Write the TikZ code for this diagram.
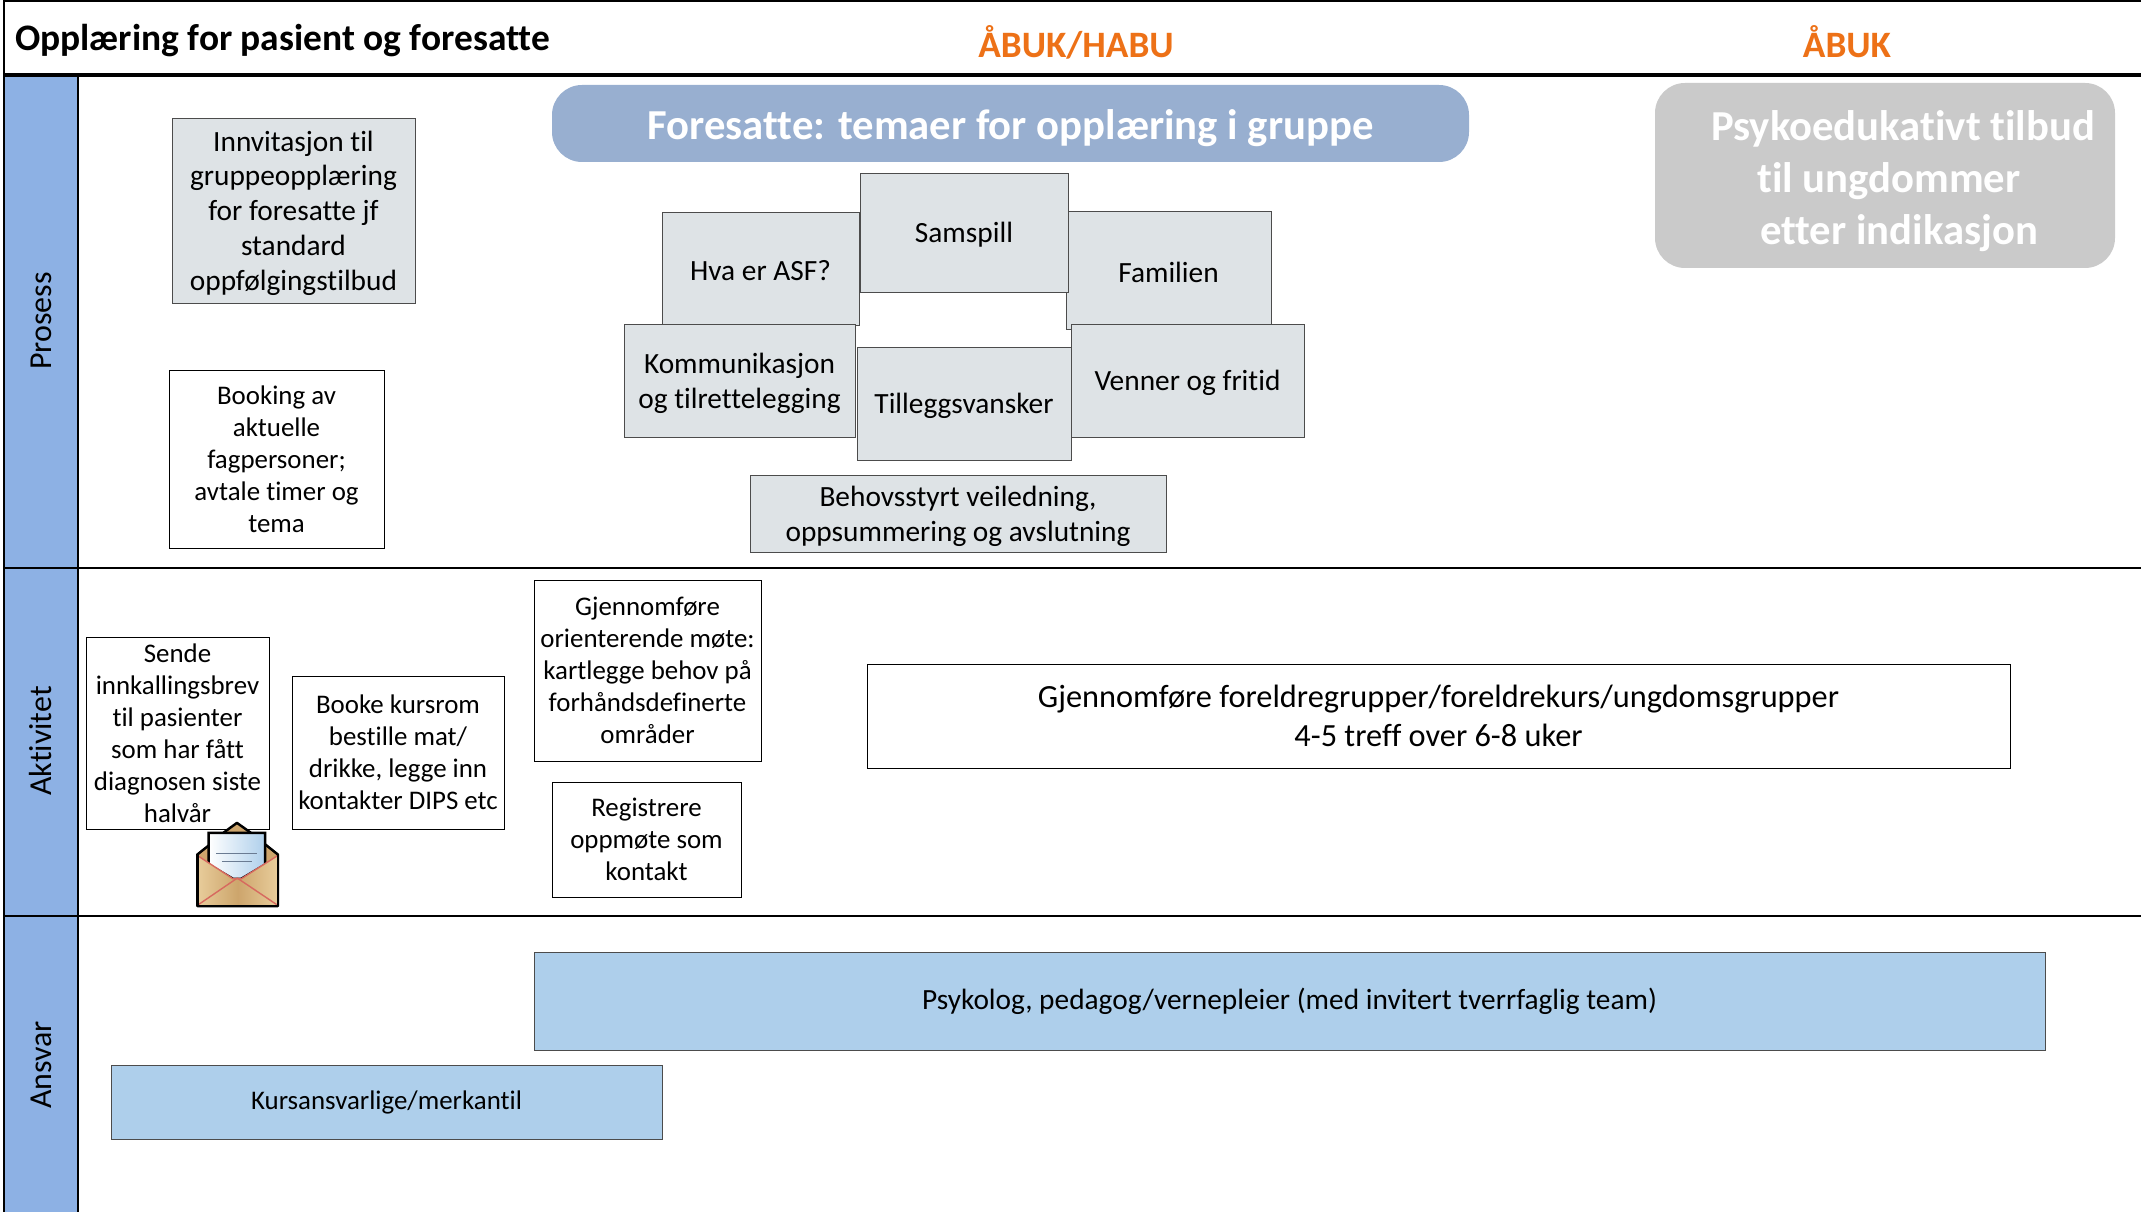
\documentclass[tikz,border=0pt]{standalone}
\usepackage{fontspec}
\setmainfont[Ligatures=NoCommon]{Carlito}
\definecolor{mylane}{RGB}{141,177,228}
\definecolor{mygrey}{RGB}{222,227,230}
\definecolor{mypill}{RGB}{152,175,208}
\definecolor{myoffer}{RGB}{202,202,202}
\definecolor{myrole}{RGB}{174,207,235}
\definecolor{myorange}{RGB}{237,113,23}
\definecolor{mytan}{RGB}{205,165,108}
\definecolor{mysand}{RGB}{232,205,155}
\definecolor{myred}{RGB}{215,105,95}

\begin{document}
\begin{tikzpicture}[
    line width=.7pt,
    lanelabel/.style={rotate=90, font=\fontsize{9.1}{10}\selectfont},
    plainbox/.style={draw=black, line width=.25pt, fill=white, align=center, inner sep=0pt, font=\fontsize{7.65}{9.1}\selectfont},
    topicbox/.style={plainbox, draw=black!70, fill=mygrey, font=\fontsize{8.35}{9.95}\selectfont, execute at begin node={\rule{0pt}{.245cm}}},
    rolebox/.style={plainbox, draw=black!70, fill=myrole},
    headlabel/.style={font=\fontsize{10.6}{12}\selectfont\bfseries, text=myorange},
    pillbox/.style={rounded corners=.3cm, align=center, inner sep=0pt, text=white, font=\fontsize{12.15}{14.8}\selectfont\bfseries, execute at begin node={\rule{0pt}{.39cm}}},
  ]
  \useasboundingbox (0, 0) rectangle (21.41, 12.12);
  % lanes
  \fill[color=mylane] (.04, 0) rectangle (.78, 11.37);
  \draw[line width=.5pt] (.04, 0) -- (.04, 12.11) -- (21.41, 12.11);
  \draw[line width=1pt] (.04, 11.37) -- (21.41, 11.37);
  \draw[line width=.7pt] (.78, 0) -- (.78, 11.37);
  \draw[line width=.7pt] (.04, 6.44) -- (21.41, 6.44);
  \draw[line width=.7pt] (.04, 2.96) -- (21.41, 2.96);
  \node[lanelabel] (prosess) at (.41, 8.91) {Prosess};
  \node[lanelabel] (aktivitet) at (.41, 4.71) {Aktivitet};
  \node[lanelabel] (ansvar) at (.41, 1.47) {Ansvar};
  % header
  \node[anchor=west, inner sep=0pt, font=\fontsize{10.65}{12}\selectfont\bfseries] (title) at (.14, 11.71) {Opplæring for pasient og foresatte};
  \node[headlabel] (habu) at (10.76, 11.7) {ÅBUK/HABU};
  \node[headlabel] (abuk) at (18.47, 11.7) {ÅBUK};
  % prosess
  \node[topicbox, minimum width=2.43cm, minimum height=1.85cm] (invite) at (2.935, 10.015) {\rule{0pt}{.26cm}Innvitasjon til\\gruppeopplæring\\for foresatte jf\\standard\\oppfølgingstilbud};
  \node[plainbox, minimum width=2.15cm, minimum height=1.78cm] (booking) at (2.765, 7.53) {Booking av\\aktuelle\\fagpersoner;\\avtale timer og\\tema};
  \node[pillbox, fill=mypill, minimum width=9.17cm, minimum height=.77cm] (themes) at (10.105, 10.885) {Foresatte: temaer for opplæring i gruppe};
  \node[pillbox, fill=myoffer, minimum width=4.6cm, minimum height=1.85cm] (offer) at (18.85, 10.365) {\rule{0pt}{.42cm}\hspace*{.36cm}Psykoedukativt tilbud\\\hspace*{.08cm}til ungdommer\\\hspace*{.28cm}etter indikasjon};
  \node[topicbox, minimum width=1.97cm, minimum height=1.13cm] (asf) at (7.605, 9.435) {Hva er ASF?};
  \node[topicbox, minimum width=2.05cm, minimum height=1.18cm] (family) at (11.685, 9.42) {Familien};
  \node[topicbox, minimum width=2.08cm, minimum height=1.19cm] (interplay) at (9.64, 9.795) {Samspill};
  \node[topicbox, minimum width=2.31cm, minimum height=1.13cm] (communication) at (7.395, 8.315) {\rule{0pt}{.258cm}Kommunikasjon\\og tilrettelegging};
  \node[topicbox, minimum width=2.33cm, minimum height=1.13cm] (friends) at (11.875, 8.315) {Venner og fritid};
  \node[topicbox, minimum width=2.14cm, minimum height=1.13cm] (extras) at (9.64, 8.085) {Tilleggsvansker};
  \node[topicbox, minimum width=4.16cm, minimum height=.77cm] (guidance) at (9.58, 6.985) {\rule{0pt}{.255cm}Behovsstyrt veiledning,\\oppsummering og avslutning};
  % aktivitet
  \node[plainbox, minimum width=1.83cm, minimum height=1.92cm] (letter) at (1.775, 4.79) {Sende\\innkallingsbrev\\til pasienter\\som har fått\\diagnosen siste\\halvår};
  \node[plainbox, minimum width=2.12cm, minimum height=1.53cm] (room) at (3.98, 4.595) {Booke kursrom\\bestille mat/\\drikke, legge inn\\kontakter DIPS etc};
  \node[plainbox, minimum width=2.27cm, minimum height=1.81cm] (meeting) at (6.475, 5.415) {Gjennomføre\\orienterende møte:\\kartlegge behov på\\forhåndsdefinerte\\områder};
  \node[plainbox, minimum width=1.89cm, minimum height=1.15cm] (register) at (6.465, 3.725) {Registrere\\oppmøte som\\kontakt};
  \node[plainbox, minimum width=11.43cm, minimum height=1.04cm, font=\fontsize{9.2}{11.1}\selectfont] (groups) at (14.385, 4.96) {Gjennomføre foreldregrupper/foreldrekurs/ungdomsgrupper\\4-5 treff over 6-8 uker};
  % ansvar
  \node[rolebox, minimum width=15.11cm, minimum height=.98cm, font=\fontsize{8.35}{10}\selectfont] (team) at (12.895, 2.11) {Psykolog, pedagog/vernepleier (med invitert tverrfaglig team)};
  \node[rolebox, minimum width=5.51cm, minimum height=.74cm] (staff) at (3.865, 1.1) {Kursansvarlige/merkantil};
  % envelope
  \begin{scope}[shift={(.6, 5.92)}, x=.003333cm, y=-.003333cm]
    \draw[fill=mytan, line width=.7pt, line join=round] (413, 705) -- (447, 678) -- (495, 637) -- (532, 610) -- (570, 637) -- (655, 705) -- (655, 860) -- (413, 860) -- cycle;
    \draw[left color=white, right color=myrole, line width=.7pt] (447, 735) -- (447, 640) -- (617, 640) -- (617, 735) -- (545, 778) -- (520, 778) -- cycle;
    \draw[color=mypill!70!black, line width=.5pt] (470, 702) -- (592, 702);
    \draw[color=mypill!70!black, line width=.5pt] (487, 726) -- (578, 726);
    \shade[left color=mysand, right color=mysand, middle color=mytan] (413, 708) -- (520, 778) -- (545, 778) -- (655, 708) -- (655, 860) -- (413, 860) -- cycle;
    \draw[color=myred, line width=.4pt] (413, 708) -- (520, 778) -- (545, 778) -- (655, 708);
    \draw[color=myred, line width=.4pt] (413, 858) -- (533, 776) -- (655, 858);
    \draw[line width=.7pt, line join=round] (413, 705) -- (413, 860) -- (655, 860) -- (655, 705);
  \end{scope}
\end{tikzpicture}
\end{document}
